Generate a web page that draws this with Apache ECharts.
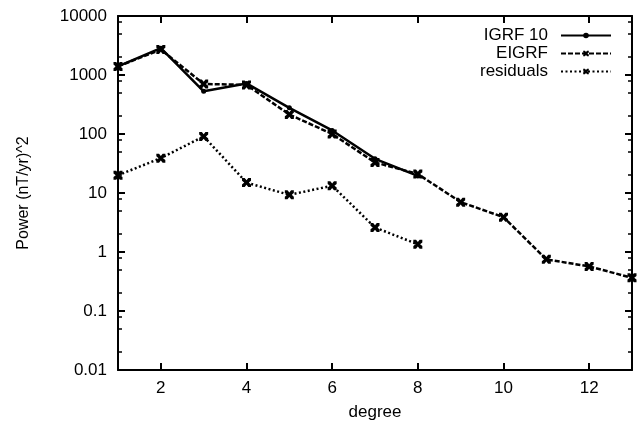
<!DOCTYPE html>
<html>
<head>
<meta charset="utf-8">
<script src="https://cdn.jsdelivr.net/npm/echarts@6/dist/echarts.min.js"></script>
<style>html,body{margin:0;padding:0;background:#fff;}#c{width:637px;height:426px;}</style>
</head>
<body>
<div id="c"></div>
<script>
const degrees = [1, 2, 3, 4, 5, 6, 7, 8, 9, 10, 11, 12, 13];
const igrf10 = [1400, 2850, 530, 720, 278, 115, 38, 19.5];
const eigrf = [1400, 2700, 705, 680, 214, 100, 33, 21, 7.0, 3.9, 0.75, 0.57, 0.365];
const residuals = [20, 39, 91, 15, 9.3, 13.3, 2.6, 1.35];
const xTicks = [2, 4, 6, 8, 10, 12];
const yTickValues = [0.01, 0.1, 1, 10, 100, 1000, 10000];
const yTickLabels = ['0.01', '0.1', '1', '10', '100', '1000', '10000'];
const yMinorFactors = [2, 5, 8];

const minorLog = [];
for (let d = -2; d < 4; d++) {
  yMinorFactors.forEach(f => minorLog.push(d + Math.log10(f)));
}

const pairs = (ys) => ys.map((v, i) => [degrees[i], v]);
const FONT = 'Liberation Sans, Arial, Helvetica, sans-serif';
const xMark = 'path://M0,0 L3,0 L5,2.5 L7,0 L10,0 L10,3 L7.5,5 L10,7 L10,10 L7,10 L5,7.5 L3,10 L0,10 L0,7 L2.5,5 L0,3 Z';

const chart = echarts.init(document.getElementById('c'), null, {renderer: 'canvas'});
const grid = {left: 118, right: 5, top: 16, bottom: 54};
const axisLineStyle = {color: '#000', width: 2};
function majorTick(extra) {
  return Object.assign({show: true, inside: true, length: 7, lineStyle: {color: '#000', width: 2}}, extra || {});
}
function minorTick() {
  return {show: true, inside: true, length: 4, customValues: minorLog, lineStyle: {color: '#000', width: 1.5}};
}

chart.setOption({
  animation: false,
  backgroundColor: '#fff',
  textStyle: {fontFamily: FONT},
  grid: grid,
  legend: {
    orient: 'vertical',
    align: 'right',
    right: 20,
    top: 22,
    itemWidth: 50,
    itemHeight: 7,
    itemGap: 1,
    textStyle: {fontSize: 17, color: '#000', fontFamily: FONT, padding: [0, 8, 0, 0]},
    data: ['IGRF 10', 'EIGRF', 'residuals']
  },
  xAxis: [
    {
      type: 'value', min: 1, max: 13, position: 'bottom',
      name: 'degree', nameLocation: 'middle', nameGap: 34,
      nameTextStyle: {fontSize: 17, color: '#000', fontFamily: FONT},
      axisLine: {show: true, onZero: false, lineStyle: axisLineStyle},
      axisTick: majorTick({customValues: xTicks}),
      axisLabel: {customValues: xTicks, fontSize: 17, color: '#000', margin: 10, fontFamily: FONT},
      splitLine: {show: false}
    },
    {
      type: 'value', min: 1, max: 13, position: 'top',
      axisLine: {show: true, onZero: false, lineStyle: axisLineStyle},
      axisTick: majorTick({customValues: xTicks}),
      axisLabel: {show: false},
      splitLine: {show: false}
    }
  ],
  yAxis: [
    {
      type: 'log', min: 0.01, max: 10000, logBase: 10, position: 'left',
      name: 'Power (nT/yr)^2', nameLocation: 'middle', nameGap: 86,
      nameTextStyle: {fontSize: 16, color: '#000', fontFamily: FONT},
      axisLine: {show: true, onZero: false, lineStyle: axisLineStyle},
      axisTick: majorTick(),
      axisLabel: {
        show: true, fontSize: 17, color: '#000', margin: 11, fontFamily: FONT,
        formatter: function (v) {
          let best = 0;
          yTickValues.forEach((t, i) => { if (Math.abs(Math.log10(t) - Math.log10(v)) < Math.abs(Math.log10(yTickValues[best]) - Math.log10(v))) best = i; });
          return yTickLabels[best];
        }
      },
      splitLine: {show: false}
    },
    {
      type: 'log', min: 0.01, max: 10000, logBase: 10, position: 'right',
      axisLine: {show: true, onZero: false, lineStyle: axisLineStyle},
      axisTick: majorTick(),
      axisLabel: {show: false},
      splitLine: {show: false}
    },
    {
      type: 'value', min: -2, max: 4, position: 'left',
      axisLine: {show: false},
      axisTick: minorTick(),
      axisLabel: {show: false},
      splitLine: {show: false}
    },
    {
      type: 'value', min: -2, max: 4, position: 'right',
      axisLine: {show: false},
      axisTick: minorTick(),
      axisLabel: {show: false},
      splitLine: {show: false}
    }
  ],
  series: [
    {
      name: 'IGRF 10', type: 'line', xAxisIndex: 0, yAxisIndex: 0,
      data: pairs(igrf10),
      symbol: 'circle', symbolSize: 5, showAllSymbol: true,
      lineStyle: {color: '#000', width: 2.5, type: 'solid'},
      itemStyle: {color: '#000'}
    },
    {
      name: 'EIGRF', type: 'line', xAxisIndex: 0, yAxisIndex: 0,
      data: pairs(eigrf),
      symbol: xMark, symbolSize: 9, showAllSymbol: true,
      lineStyle: {color: '#000', width: 2.5, type: [5, 2]},
      itemStyle: {color: '#000'}
    },
    {
      name: 'residuals', type: 'line', xAxisIndex: 0, yAxisIndex: 0,
      data: pairs(residuals),
      symbol: xMark, symbolSize: 9, showAllSymbol: true,
      lineStyle: {color: '#000', width: 2.5, type: [2, 2.5]},
      itemStyle: {color: '#000'}
    }
  ]
});
</script>
</body>
</html>
